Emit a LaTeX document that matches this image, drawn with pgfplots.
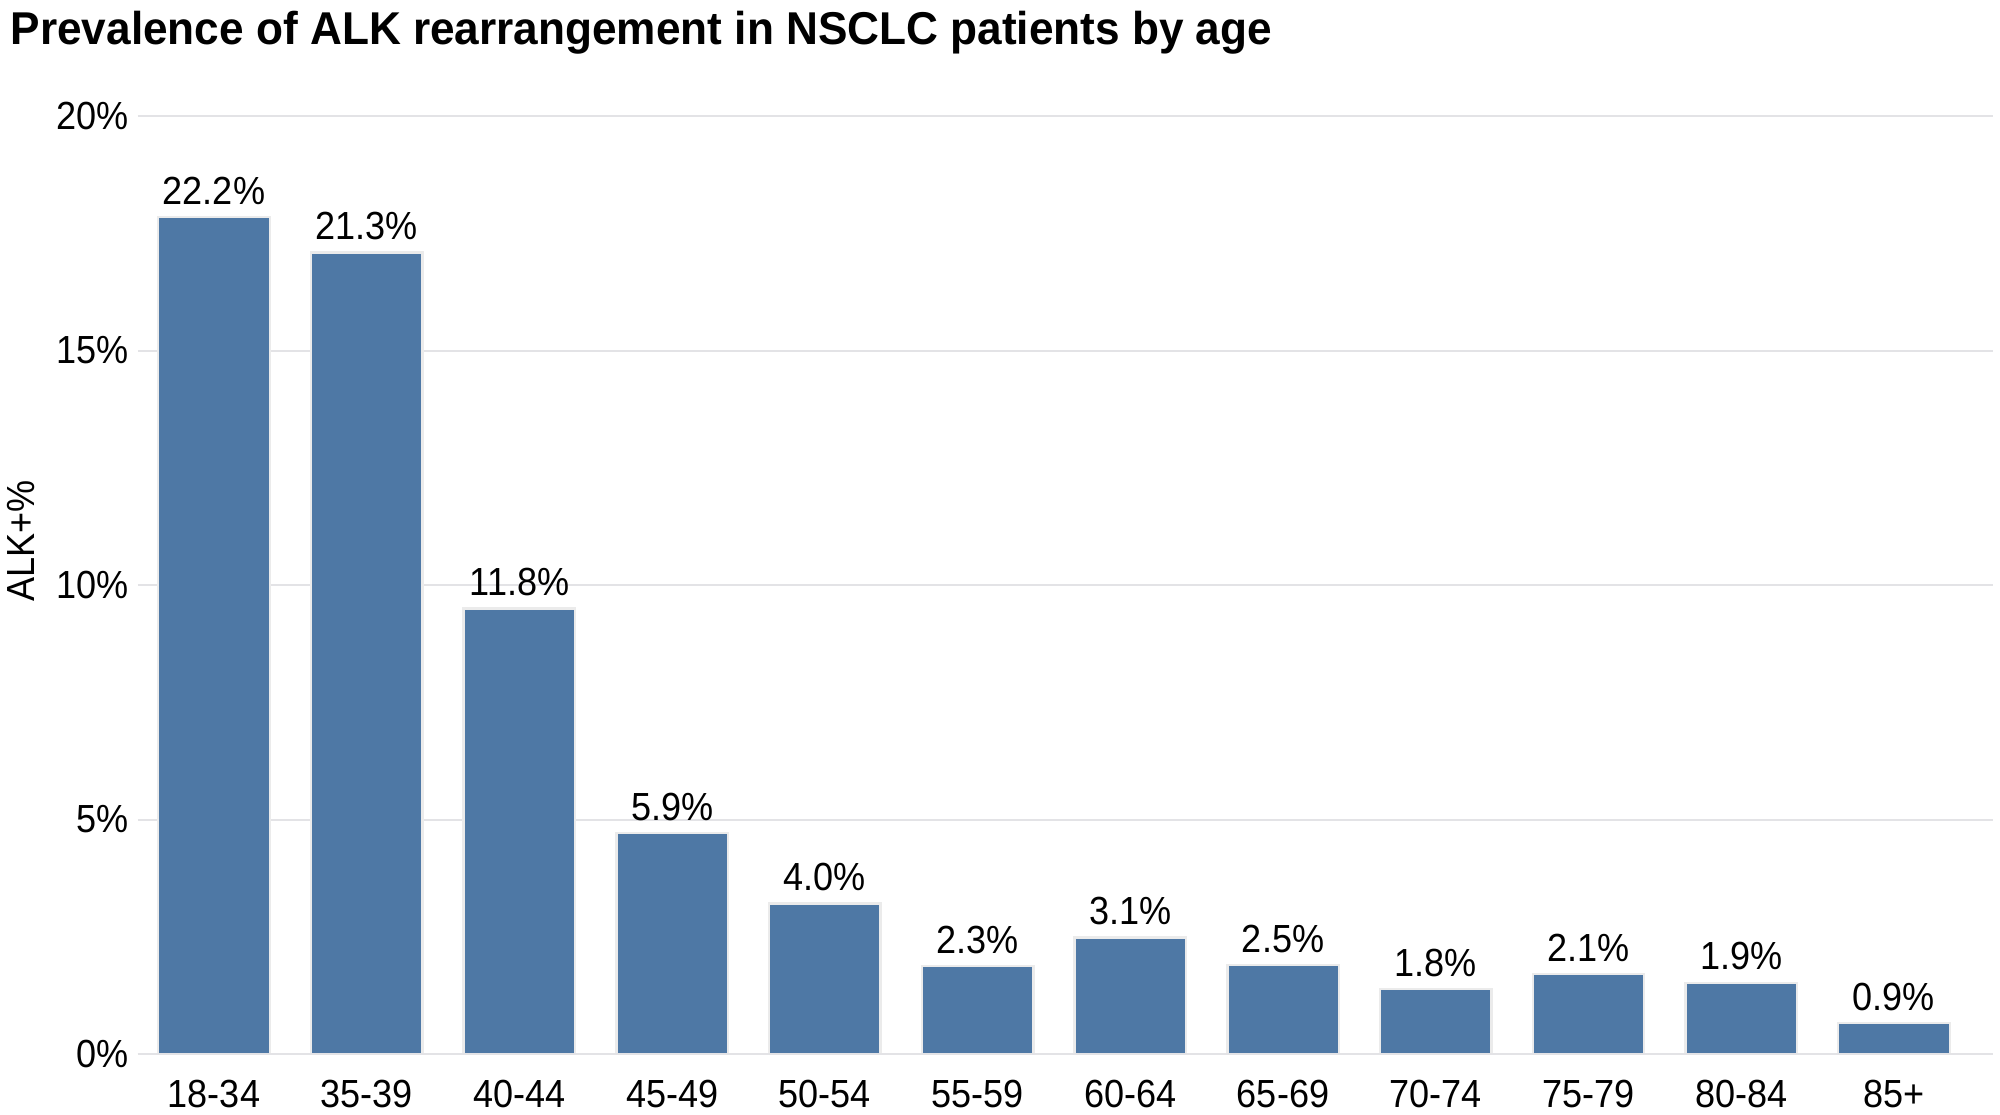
\documentclass[border=0pt]{standalone}
\usepackage{fontspec}
\setmainfont[FakeStretch=0.92]{Liberation Sans}
\newfontfamily\titlefont[FakeStretch=0.96]{Liberation Sans}
\usepackage{pgfplots}
\pgfplotsset{compat=1.18}
\definecolor{barblue}{HTML}{4E78A5}
\definecolor{gridgray}{HTML}{E3E3E6}
\begin{document}
\begin{tikzpicture}
\path[use as bounding box] (0,0) rectangle (500pt,278.5pt);
\node[anchor=north west, inner sep=0pt, font=\titlefont\bfseries\fontsize{11.5}{13}\selectfont]
  at (2.5pt,276pt) {Prevalence of ALK rearrangement in NSCLC patients by age};
\begin{axis}[
  at={(34.4pt,15pt)}, anchor=south west,
  scale only axis, width=463.9pt, height=234.5pt,
  xmin=-0.5, xmax=11.65, ymin=0, ymax=20,
  clip=false,
  axis line style={draw=none},
  axis x line*=bottom, axis y line*=left,
  major tick length=0pt,
  ytick={0,5,10,15,20},
  yticklabels={0\%,5\%,10\%,15\%,20\%},
  xtick={0,...,11},
  xticklabels={18-34,35-39,40-44,45-49,50-54,55-59,60-64,65-69,70-74,75-79,80-84,85+},
  ymajorgrids, grid style={gridgray, line width=0.5pt},
  ticklabel style={font=\fontsize{9.8}{11}\selectfont, text=black},
  /pgf/number format/assume math mode=true,
  yticklabel style={xshift=1.2pt},
  xticklabel style={yshift=-3pt},
  ylabel={ALK+\%},
  ylabel style={font=\fontsize{9.8}{11}\selectfont, at={(axis description cs:0,0.5)}, anchor=center, yshift=29.15pt, xshift=11pt},
  ybar, bar width=0.73,
  bar shift=0pt,
  nodes near coords={\pgfplotspointmeta},
  point meta=explicit symbolic,
  nodes near coords style={font=\fontsize{9.8}{11}\selectfont, text=black, inner sep=1.5pt, yshift=1.3pt},
]
\addplot[fill=barblue, draw=black!8, line width=0.6pt] coordinates {
  (0,17.85) [22.2\%]
  (1,17.09) [21.3\%]
  (2,9.50) [11.8\%]
  (3,4.71) [5.9\%]
  (4,3.21) [4.0\%]
  (5,1.88) [2.3\%]
  (6,2.48) [3.1\%]
  (7,1.90) [2.5\%]
  (8,1.39) [1.8\%]
  (9,1.71) [2.1\%]
  (10,1.52) [1.9\%]
  (11,0.66) [0.9\%]
};
\draw[gridgray, line width=0.6pt] (axis cs:-0.5,0) -- (axis cs:11.65,0);
\end{axis}
\end{tikzpicture}
\end{document}
